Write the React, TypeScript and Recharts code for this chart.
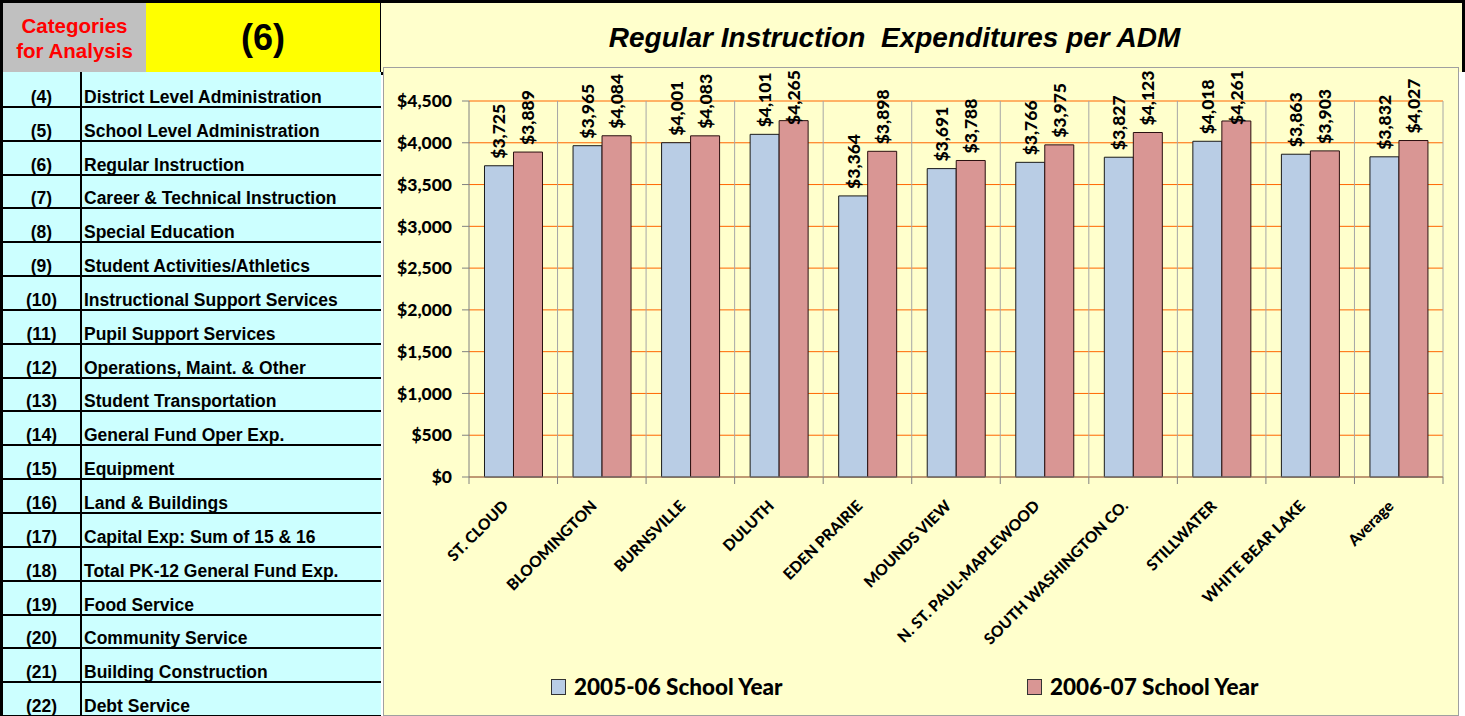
import React from 'react';
import {
  BarChart,
  Bar,
  XAxis,
  YAxis,
  CartesianGrid,
  LabelList,
} from 'recharts';

// districts on the x axis
const districts = [
  'ST. CLOUD',
  'BLOOMINGTON',
  'BURNSVILLE',
  'DULUTH',
  'EDEN PRAIRIE',
  'MOUNDS VIEW',
  'N. ST. PAUL-MAPLEWOOD',
  'SOUTH WASHINGTON CO.',
  'STILLWATER',
  'WHITE BEAR LAKE',
  'Average',
];

const year2005 = [3725, 3965, 4001, 4101, 3364, 3691, 3766, 3827, 4018, 3863, 3832];
const year2006 = [3889, 4084, 4083, 4265, 3898, 3788, 3975, 4123, 4261, 3903, 4027];

const yTicks = [0, 500, 1000, 1500, 2000, 2500, 3000, 3500, 4000, 4500];

const seriesNames = ['2005-06 School Year', '2006-07 School Year'];

// left-hand category table
const categoryCodes = [
  '(4)', '(5)', '(6)', '(7)', '(8)', '(9)', '(10)', '(11)', '(12)', '(13)',
  '(14)', '(15)', '(16)', '(17)', '(18)', '(19)', '(20)', '(21)', '(22)',
];
const categoryNames = [
  'District Level Administration',
  'School Level Administration',
  'Regular Instruction',
  'Career & Technical Instruction',
  'Special Education',
  'Student Activities/Athletics',
  'Instructional Support Services',
  'Pupil Support Services',
  'Operations, Maint. & Other',
  'Student Transportation',
  'General Fund Oper Exp.',
  'Equipment',
  'Land & Buildings',
  'Capital Exp: Sum of 15 & 16',
  'Total PK-12 General Fund Exp.',
  'Food Service',
  'Community Service',
  'Building Construction',
  'Debt Service',
];

const data = districts.map((name, i) => ({
  name,
  y2005: year2005[i],
  y2006: year2006[i],
}));

const CHART_W = 1074;
const CHART_H = 647;
const MARGIN = { top: 33, right: 15, left: 0, bottom: 88 };
const Y_AXIS_W = 85;
const PLOT_W = CHART_W - MARGIN.left - MARGIN.right - Y_AXIS_W;
const BAND = PLOT_W / districts.length;
// rough length of a rotated value label, used to keep tall labels inside the box
const LABEL_LEN = 50;

const BLUE = '#B9CDE5';
const RED = '#D99694';
const CHART_FONT = 'Lato, "Open Sans", sans-serif';
const TABLE_FONT = '"Liberation Sans", Arial, sans-serif';

const money = (v: number) => `$${v.toLocaleString('en-US')}`;

const ValueLabel = (props: any) => {
  const { x, y, width, value } = props;
  const cx = x + width / 2;
  const ty = Math.max(y - 7, 7 + LABEL_LEN);
  return (
    <text
      x={cx}
      y={ty}
      transform={`rotate(-90, ${cx}, ${ty})`}
      textAnchor="start"
      dominantBaseline="central"
      fontFamily={CHART_FONT}
      fontWeight={900}
      fontSize={17.5}
      fill="#000"
    >
      {money(value)}
    </text>
  );
};

const DistrictTick = (props: any) => {
  const { x, y, payload, index } = props;
  const half = BAND / 2;
  const tx = x - 4;
  const ty = y + 30;
  return (
    <g>
      <line x1={x - half} x2={x - half} y1={y} y2={y + 7} stroke="#808080" />
      {index === districts.length - 1 && (
        <line x1={x + half} x2={x + half} y1={y} y2={y + 7} stroke="#808080" />
      )}
      <text
        x={tx}
        y={ty}
        transform={`rotate(-45, ${tx}, ${ty})`}
        textAnchor="end"
        fontFamily={CHART_FONT}
        fontWeight={900}
        fontSize={15.5}
        fill="#000"
      >
        {payload.value}
      </text>
    </g>
  );
};

const boundaryLines = ({ offset }: any) =>
  districts.map((_, i) => offset.left + ((i + 1) * offset.width) / districts.length);

const LegendItem = ({ color, label, left }: { color: string; label: string; left: number }) => (
  <div
    style={{
      position: 'absolute',
      left,
      top: 605,
      display: 'flex',
      alignItems: 'center',
      fontFamily: CHART_FONT,
      fontWeight: 900,
      fontSize: 22.5,
      color: '#000',
      whiteSpace: 'nowrap',
    }}
  >
    <span
      style={{
        display: 'inline-block',
        width: 13,
        height: 14,
        background: color,
        border: '1px solid #333',
        marginRight: 8,
      }}
    />
    {label}
  </div>
);

const ROW_TOP = 74;
const ROW_H = 33.85;

const CategoryTable = () => (
  <>
    {/* header */}
    <div
      style={{
        position: 'absolute',
        left: 0,
        top: 0,
        width: 149,
        height: 75,
        boxSizing: 'border-box',
        background: '#C0C0C0',
        border: '3px solid #000',
        display: 'flex',
        alignItems: 'center',
        justifyContent: 'center',
        textAlign: 'center',
        color: '#FF0000',
        fontFamily: TABLE_FONT,
        fontWeight: 'bold',
        fontSize: 20.5,
        lineHeight: '25px',
      }}
    >
      Categories
      <br />
      for Analysis
    </div>
    <div
      style={{
        position: 'absolute',
        left: 146,
        top: 0,
        width: 237,
        height: 75,
        boxSizing: 'border-box',
        background: '#FFFF00',
        borderTop: '3px solid #000',
        borderBottom: '3px solid #000',
        borderRight: '3px solid #000',
        display: 'flex',
        alignItems: 'center',
        justifyContent: 'center',
        fontFamily: TABLE_FONT,
        fontWeight: 'bold',
        fontSize: 36,
        color: '#000',
      }}
    >
      (6)
    </div>
    {/* rows */}
    <div
      style={{
        position: 'absolute',
        left: 0,
        top: 72,
        width: 381,
        height: 644,
        background: '#CCFFFF',
        borderLeft: '3px solid #000',
        boxSizing: 'border-box',
        overflow: 'hidden',
      }}
    >
      <div
        style={{
          position: 'absolute',
          left: 77,
          top: 0,
          width: 2,
          height: 644,
          background: '#000',
        }}
      />
      {categoryCodes.map((code, i) => {
        const top = ROW_TOP - 72 + i * ROW_H;
        return (
          <div
            key={code}
            style={{
              position: 'absolute',
              left: 0,
              top,
              width: 378,
              height: ROW_H,
              borderBottom: '2px solid #000',
              boxSizing: 'border-box',
              fontFamily: TABLE_FONT,
              fontWeight: 'bold',
              fontSize: 17.5,
              color: '#000',
            }}
          >
            <span
              style={{
                position: 'absolute',
                left: 0,
                width: 77,
                bottom: -2,
                textAlign: 'center',
              }}
            >
              {code}
            </span>
            <span style={{ position: 'absolute', left: 81, bottom: -2, whiteSpace: 'nowrap' }}>
              {categoryNames[i]}
            </span>
          </div>
        );
      })}
    </div>
  </>
);

export default function App() {
  return (
    <div
      style={{
        position: 'absolute',
        left: 0,
        top: 0,
        width: 1465,
        height: 716,
        background: '#fff',
        overflow: 'hidden',
      }}
    >
      <CategoryTable />

      {/* title strip */}
      <div
        style={{
          position: 'absolute',
          left: 381,
          top: 0,
          width: 1084,
          height: 72,
          boxSizing: 'border-box',
          background: '#FFFFCC',
          borderTop: '3px solid #000',
          borderRight: '3px solid #000',
        }}
      >
        <div
          style={{
            position: 'absolute',
            left: 0,
            right: 0,
            top: 19,
            textAlign: 'center',
            fontFamily: TABLE_FONT,
            fontWeight: 'bold',
            fontStyle: 'italic',
            fontSize: 28,
            whiteSpace: 'pre',
            color: '#000',
            paddingRight: 54,
          }}
        >
          {'Regular Instruction  Expenditures per ADM'}
        </div>
      </div>

      {/* chart box */}
      <div
        style={{
          position: 'absolute',
          left: 383,
          top: 67,
          width: CHART_W + 2,
          height: CHART_H + 2,
          boxSizing: 'border-box',
          background: '#FFFFCC',
          border: '1px solid #A0A0A0',
        }}
      >
        <BarChart
          width={CHART_W}
          height={CHART_H}
          data={data}
          margin={MARGIN}
          barGap={0}
          barCategoryGap="17.5%"
        >
          <CartesianGrid stroke="#FF6600" vertical={false} strokeWidth={1} />
          <CartesianGrid
            stroke="#A6A6A6"
            horizontal={false}
            verticalCoordinatesGenerator={boundaryLines}
          />
          <XAxis
            dataKey="name"
            interval={0}
            height={150}
            axisLine={{ stroke: '#808080' }}
            tickLine={false}
            tickSize={0}
            tickMargin={0}
            tick={<DistrictTick />}
          />
          <YAxis
            width={Y_AXIS_W}
            domain={[0, 4500]}
            ticks={yTicks}
            interval={0}
            tickFormatter={money}
            axisLine={{ stroke: '#808080' }}
            tickLine={{ stroke: '#808080' }}
            tickSize={7}
            tickMargin={10}
            tick={{ fontFamily: CHART_FONT, fontWeight: 900, fontSize: 17.5, fill: '#000' }}
          />
          <Bar
            dataKey="y2005"
            name={seriesNames[0]}
            fill={BLUE}
            stroke="#1a1a1a"
            strokeWidth={1}
            isAnimationActive={false}
          >
            <LabelList dataKey="y2005" content={<ValueLabel />} />
          </Bar>
          <Bar
            dataKey="y2006"
            name={seriesNames[1]}
            fill={RED}
            stroke="#2a1010"
            strokeWidth={1}
            isAnimationActive={false}
          >
            <LabelList dataKey="y2006" content={<ValueLabel />} />
          </Bar>
        </BarChart>
        <LegendItem color={BLUE} label={seriesNames[0]} left={167} />
        <LegendItem color={RED} label={seriesNames[1]} left={643} />
      </div>
    </div>
  );
}
